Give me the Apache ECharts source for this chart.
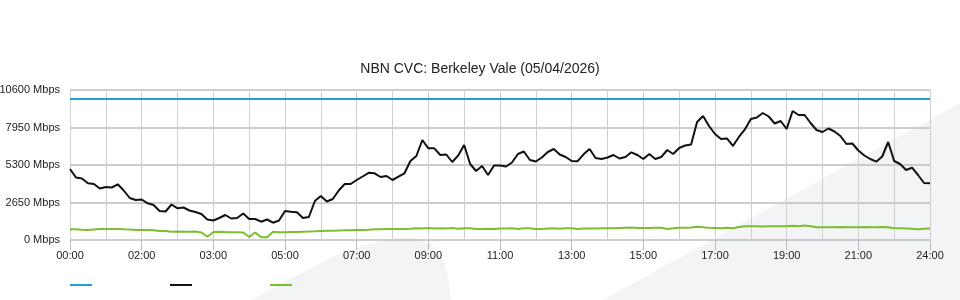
<!DOCTYPE html>
<html>
<head>
<meta charset="utf-8">
<script src="https://cdn.jsdelivr.net/npm/echarts@6/dist/echarts.min.js"></script>
<style>
html,body{margin:0;padding:0;background:#fff;}
#chart{width:960px;height:300px;}
</style>
</head>
<body>
<div id="chart"></div>
<script>
// ---- data (10-minute samples, 145 points) ----
const titleText = 'NBN CVC: Berkeley Vale (05/04/2026)';
const tickLabels = ['00:00','02:00','03:00','05:00','07:00','09:00','11:00','13:00','15:00','17:00','19:00','21:00','24:00'];
const yTicks = [0, 2650, 5300, 7950, 10600];
const capacityMbps = 10000;
const download = [
  5017,4417,4346,4004,3957,3639,3745,3710,3936,3498,2968,2827,2862,2594,2473,2049,2014,2509,2240,2297,2085,1979,1837,1449,1378,
  1555,1767,1519,1555,1873,1484,1484,1293,1449,1223,1378,2049,2000,1957,1555,1625,2756,3109,2721,2897,3498,3957,3957,4240,
  4487,4749,4713,4452,4523,4240,4473,4713,5583,5936,7067,6480,6480,6007,6042,5512,5971,6713,5371,4876,5229,4593,5265,5265,
  5194,5477,6077,6254,5653,5547,5830,6219,6431,6042,5865,5583,5568,6056,6431,5795,5724,5830,6007,5759,5865,6198,6007,5724,
  6077,5724,5865,6360,6077,6501,6678,6749,8339,8763,8056,7491,7137,7173,6643,7279,7809,8551,8657,8975,8727,8233,8409,7844,
  9116,8833,8833,8268,7773,7632,7879,7667,7349,6784,6819,6325,5971,5724,5533,5901,6925,5583,5371,4947,5109,4593,4028,4007
];
const upload = [
  756,756,730,707,742,777,777,777,777,756,742,707,707,707,685,636,636,587,600,587,587,600,530,233,565,
  587,565,544,544,530,212,530,190,190,587,544,544,565,565,587,600,615,636,650,657,671,685,685,707,
  707,728,756,756,777,777,777,777,798,827,813,848,813,827,813,848,798,827,827,777,777,798,777,813,
  813,827,777,827,827,777,777,813,827,798,827,827,777,813,813,813,827,827,827,848,869,883,848,848,
  848,869,869,777,827,869,869,883,940,897,869,848,827,869,827,919,968,968,968,954,968,968,968,968,
  1010,968,1025,968,897,897,897,897,919,897,897,897,919,897,897,919,897,827,827,813,798,756,798,813
];
const categories = download.map((_, i) => String(i));
const labelStep = 12;

const FONT = '"Liberation Sans", Arial, sans-serif';
const chart = echarts.init(document.getElementById('chart'), null, {renderer: 'canvas'});
chart.setOption({
  animation: false,
  backgroundColor: '#fff',
  textStyle: {fontFamily: FONT},
  graphic: [
    {type: 'polygon', z: -10, silent: true,
     shape: {points: [[251,300],[290,279],[330,258],[365,245],[395,238],[415,238],[432,245],[442,258],[448,275],[451,300]]},
     style: {fill: '#f3f4f6'}},
    {type: 'polygon', z: -10, silent: true,
     shape: {points: [[603,300],[960,103],[960,300]]},
     style: {fill: '#f3f4f6'}}
  ],
  title: {
    text: titleText, left: 'center', top: 57,
    textStyle: {fontFamily: FONT, fontSize: 14, fontWeight: 'normal', color: '#222'}
  },
  legend: {
    left: 65, top: 279, icon: 'rect', itemWidth: 22, itemHeight: 2, itemGap: 78,
    formatter: () => '', selectedMode: false,
    data: ['Capacity', 'Download', 'Upload']
  },
  grid: {left: 70, right: 30, top: 90, bottom: 60, containLabel: false, outerBoundsMode: 'none'},
  xAxis: {
    type: 'category', data: categories, boundaryGap: false,
    axisLine: {show: false},
    axisTick: {show: true, interval: labelStep - 1, length: 10, lineStyle: {color: '#bbb'}},
    axisLabel: {
      interval: labelStep - 1, margin: 10, fontSize: 11, color: '#222', fontFamily: FONT,
      formatter: (v, idx) => tickLabels[Math.round(idx / labelStep)] || ''
    },
    splitLine: {show: true, interval: labelStep / 2 - 1, lineStyle: {color: '#cfcfcf', width: 1}}
  },
  yAxis: {
    type: 'value', min: yTicks[0], max: yTicks[yTicks.length - 1], interval: yTicks[1] - yTicks[0],
    axisLine: {show: false}, axisTick: {show: false},
    axisLabel: {margin: 10, fontSize: 11, color: '#222', fontFamily: FONT, formatter: (v) => v + ' Mbps'},
    splitLine: {show: true, lineStyle: {color: '#bdbdbd', width: 1.5}}
  },
  series: [
    {name: 'Capacity', type: 'line', data: [], color: '#1ca3de',
     lineStyle: {color: '#1ca3de', width: 2},
     markLine: {silent: true, symbol: 'none', label: {show: false},
       lineStyle: {color: '#1ca3de', width: 2, type: 'solid'},
       data: [{yAxis: capacityMbps}]}},
    {name: 'Download', type: 'line', data: download, showSymbol: false, color: '#111',
     lineStyle: {color: '#111', width: 2}},
    {name: 'Upload', type: 'line', data: upload, showSymbol: false, color: '#7cbf2e',
     lineStyle: {color: '#7cbf2e', width: 2}}
  ]
});
</script>
</body>
</html>
